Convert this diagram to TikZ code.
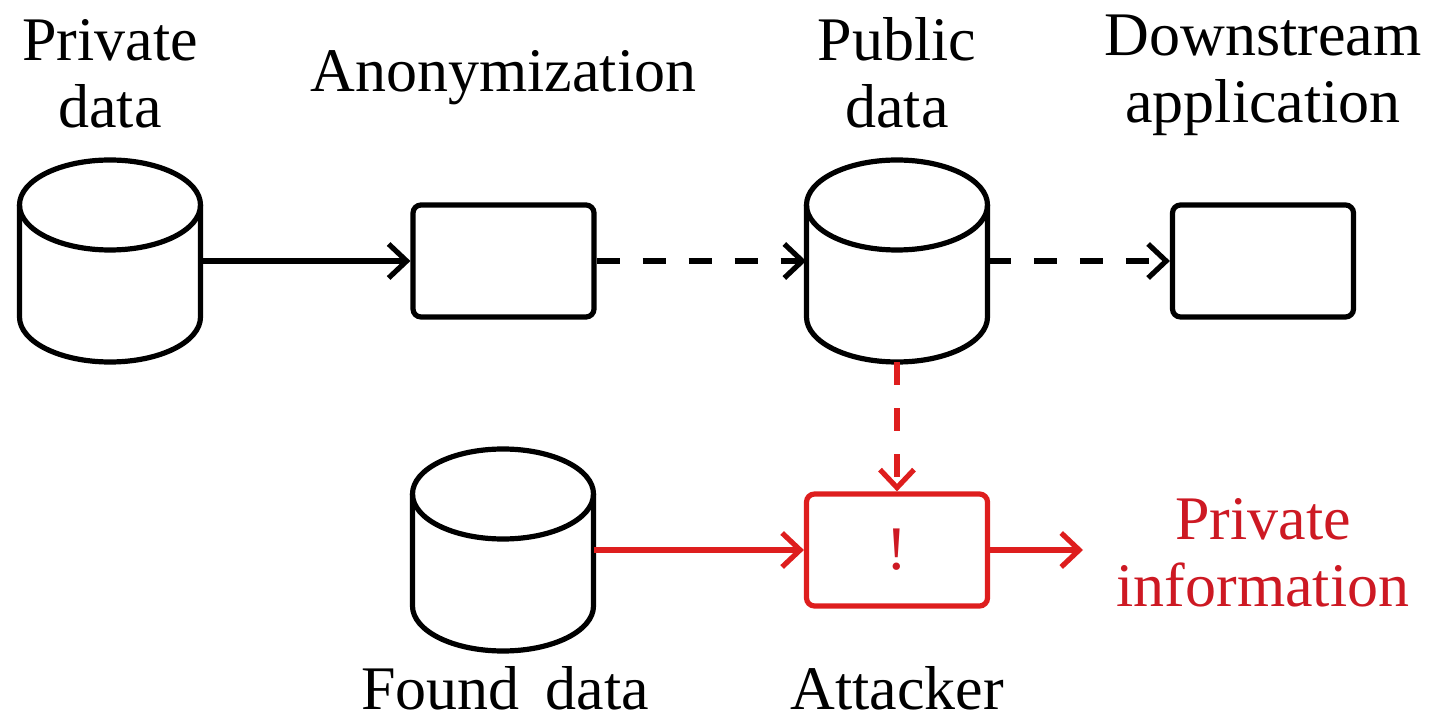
\documentclass[tikz,border=0pt]{standalone}
\usepackage{fontspec}
\setmainfont{Liberation Serif}
\usetikzlibrary{arrows.meta}
\definecolor{myred}{RGB}{222,30,30}
\definecolor{txtred}{RGB}{205,25,35}
\newcommand\drawcyl[3]{%
  \node[cylbox] (#1) at (#2,#3) {};
  \draw[ln] (#2,#3-56) ellipse [x radius=45.25pt, y radius=22.5pt];
  \draw[ln] (#2-90.5,#3-56) -- (#2-90.5,#3+56)
     arc[start angle=180, end angle=360, x radius=45.25pt, y radius=22.5pt]
     -- (#2+90.5,#3-56);
}
\begin{document}
\begin{tikzpicture}[x=0.5pt,y=-0.5pt,
  ln/.style={line width=2.6pt},
  arr/.style={ln,-{Straight Barb[length=9pt,width=17pt]}},
  dsh/.style={dash pattern=on 11.5pt off 11.5pt},
  boxn/.style={draw,ln,rounded corners=4pt,minimum width=90.5pt,minimum height=56pt,inner sep=0pt},
  cylbox/.style={minimum width=90.5pt,minimum height=101pt,inner sep=0pt},
  lbl/.style={font=\fontsize{31}{33.5}\selectfont,align=center,inner sep=0pt}]
\useasboundingbox (0,0) rectangle (1435,721);

\drawcyl{pd}{110}{261}
\drawcyl{pub}{897}{261}
\drawcyl{found}{503}{550}
\node[boxn] (anon) at (503.5,261) {};
\node[boxn] (down) at (1263,261) {};
\node[boxn,draw=myred,text=txtred,font=\fontsize{31}{33.5}\selectfont] (att) at (897,550) {!};
\coordinate (infoend) at (1083,550);

\node[lbl,anchor=base] (tpd) at (110,128) {Private\\data};
\node[lbl,anchor=base] (tanon) at (503.5,92) {Anonymization};
\node[lbl,anchor=base] (tpub) at (897,128) {Public\\data};
\node[lbl,anchor=base] (tdown) at (1263,123) {Downstream\\application};
\node[lbl,anchor=base] (tfound) at (505,709) {Found~\,data};
\node[lbl,anchor=base] (tatt) at (897,709) {Attacker};
\node[lbl,anchor=base,text=txtred] (tinfo) at (1263,606) {Private\\information};

\draw[arr] (pd) -- (anon);
\draw[arr,dsh] (anon) -- (pub);
\draw[arr,dsh] (pub) -- (down);
\draw[arr,dsh,myred] (pub.south) -- (att.north);
\draw[arr,myred] (found) -- (att);
\draw[arr,myred] (att) -- (infoend);
\end{tikzpicture}
\end{document}
